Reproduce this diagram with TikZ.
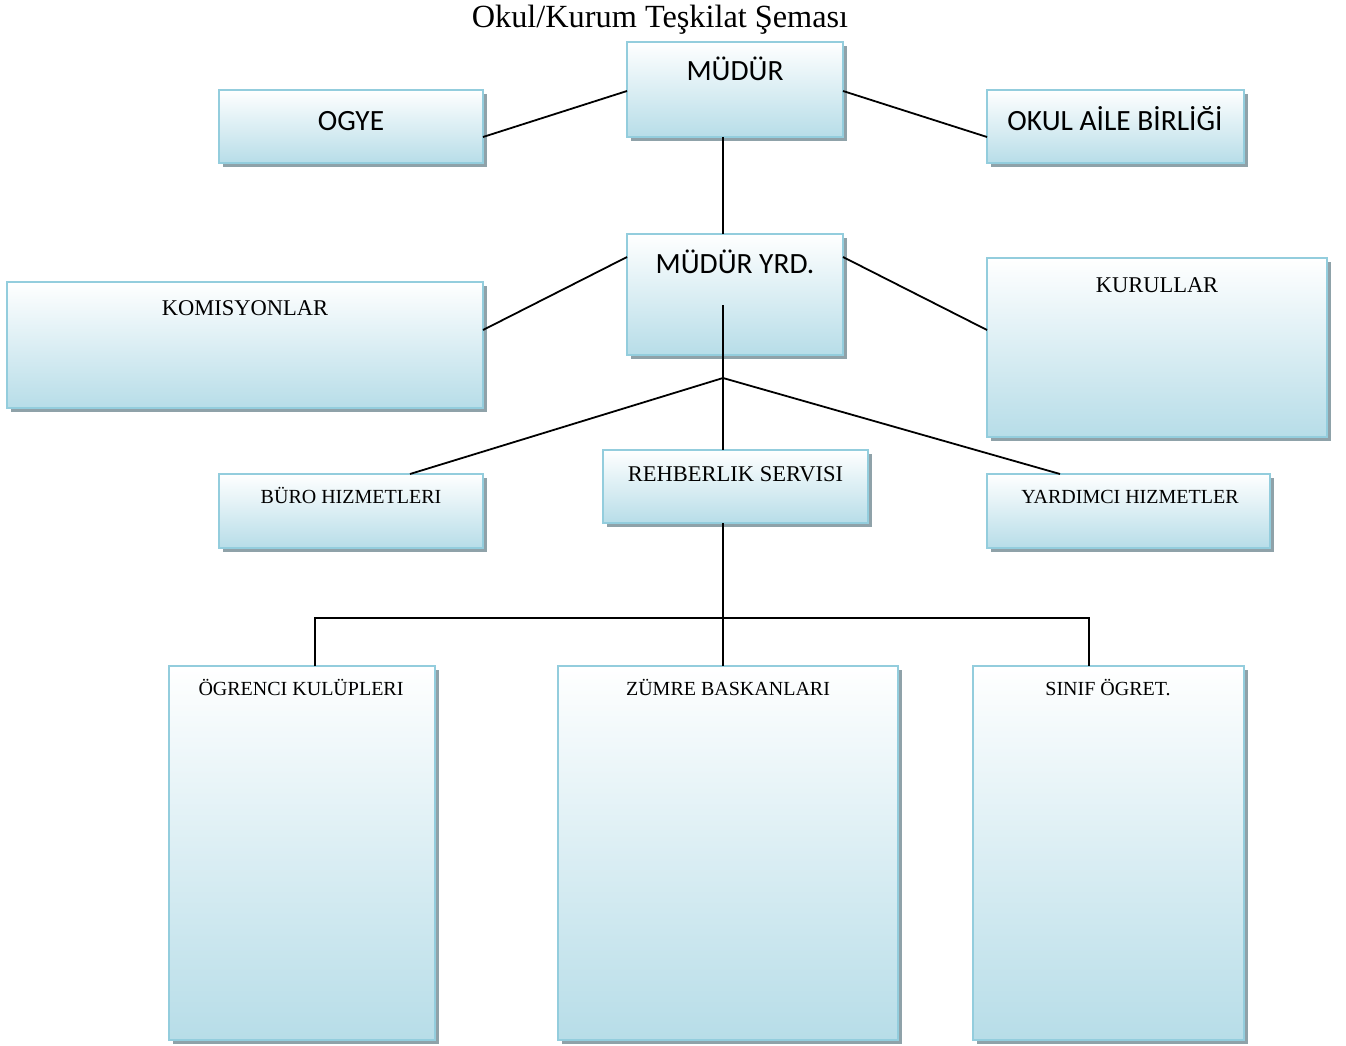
\documentclass[tikz,border=0pt]{standalone}
\usepackage{fontspec}
\setmainfont{Liberation Serif}
\newfontfamily\calib{Carlito}
\usetikzlibrary{shadows,calc}
\definecolor{boxline}{HTML}{93CDDD}
\definecolor{boxblue}{HTML}{B7DDE8}
\definecolor{shadowc}{HTML}{8FA2A9}
\tikzset{
  orgbox/.style={draw=boxline, line width=2.5pt, top color=white, bottom color=boxblue,
    inner sep=0pt, outer sep=0pt, anchor=north west,
    drop shadow={shadow xshift=3.5pt, shadow yshift=-4pt, fill=shadowc, opacity=1}},
  conn/.style={line width=1.8pt, black},
  sanslbl/.style={font=\calib\fontsize{29.4}{31}\selectfont, anchor=base, inner sep=0pt},
  seriflbl/.style={font=\fontsize{22.5}{24}\selectfont, anchor=base, inner sep=0pt},
  smalllbl/.style={font=\fontsize{20}{22}\selectfont, anchor=base, inner sep=0pt},
  titlelbl/.style={font=\fontsize{32.3}{34}\selectfont, anchor=base, inner sep=0pt}
}
\begin{document}
\begin{tikzpicture}[x=1pt,y=-1pt]
\useasboundingbox[fill=white] (0,0) rectangle (1346,1046);
% title
\node[titlelbl] (title) at (660,28) {Okul/Kurum Teşkilat Şeması};
% boxes
\node[orgbox, minimum width=216pt, minimum height=95pt] (mudur) at (627,42) {};
\node[orgbox, minimum width=264pt, minimum height=73pt] (ogye) at (219,90) {};
\node[orgbox, minimum width=257pt, minimum height=73pt] (okul) at (987,90) {};
\node[orgbox, minimum width=216pt, minimum height=121pt] (myrd) at (627,234) {};
\node[orgbox, minimum width=476pt, minimum height=126pt] (komis) at (7,282) {};
\node[orgbox, minimum width=340pt, minimum height=179pt] (kurul) at (987,258) {};
\node[orgbox, minimum width=264pt, minimum height=74pt] (buro) at (219,474) {};
\node[orgbox, minimum width=265pt, minimum height=73pt] (reh) at (603,450) {};
\node[orgbox, minimum width=283pt, minimum height=74pt] (yard) at (987,474) {};
\node[orgbox, minimum width=266pt, minimum height=374pt] (ogr) at (169,666) {};
\node[orgbox, minimum width=340pt, minimum height=374pt] (zumre) at (558,666) {};
\node[orgbox, minimum width=271pt, minimum height=374pt] (sinif) at (973,666) {};
% labels
\node[sanslbl] (tmudur) at (735,81) {MÜDÜR};
\node[sanslbl] (togye) at (351,131) {OGYE};
\node[sanslbl] (tokul) at (1115,131) {OKUL AİLE BİRLİĞİ};
\node[sanslbl] (tmyrd) at (735,273) {MÜDÜR YRD.};
\node[seriflbl] (tkomis) at (245,315) {KOMISYONLAR};
\node[seriflbl] (tkurul) at (1157,292) {KURULLAR};
\node[seriflbl] (treh) at (735.5,481) {REHBERLIK SERVISI};
\node[smalllbl] (tburo) at (351,503) {BÜRO HIZMETLERI};
\node[smalllbl] (tyard) at (1130,503) {YARDIMCI HIZMETLER};
\node[smalllbl] (togr) at (301,695) {ÖGRENCI KULÜPLERI};
\node[smalllbl] (tzumre) at (728,695) {ZÜMRE BASKANLARI};
\node[smalllbl] (tsinif) at (1108,695) {SINIF ÖGRET.};
% connectors
\coordinate (jn) at (723,378);
\coordinate (bus) at (723,618);
\coordinate (inner) at (723,305);
\draw[conn] ([yshift=-1.5pt]mudur.west) -- ([yshift=-10.5pt]ogye.east);
\draw[conn] ([yshift=-1.5pt]mudur.east) -- ([yshift=-10.5pt]okul.west);
\draw[conn] ([xshift=-12pt]mudur.south) -- ([xshift=-12pt]myrd.north);
\draw[conn] ([yshift=37.5pt]myrd.west) -- ([yshift=15pt]komis.east);
\draw[conn] ([yshift=37.5pt]myrd.east) -- ([yshift=17.5pt]kurul.west);
\draw[conn] (inner) -- (jn);
\draw[conn] (jn) -- ([xshift=59pt]buro.north);
\draw[conn] (jn) -- ([xshift=-12.5pt]reh.north);
\draw[conn] (jn) -- ([xshift=-68.5pt]yard.north);
\draw[conn] ([xshift=-12.5pt]reh.south) -- ([xshift=-5pt]zumre.north);
\draw[conn] ([xshift=13pt]ogr.north) |- (bus) -| ([xshift=-19.5pt]sinif.north);
\end{tikzpicture}
\end{document}
